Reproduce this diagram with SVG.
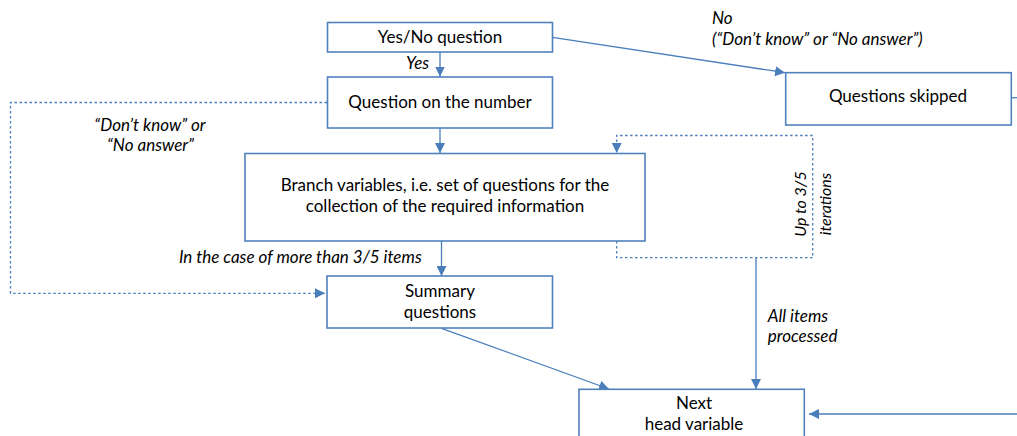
<svg xmlns="http://www.w3.org/2000/svg" width="1017" height="436" viewBox="0 0 1017 436">
<style>
.box{fill:#fff;stroke:#4f81bd;stroke-width:1.6}
.t{font-family:Lato,"Open Sans",sans-serif;font-size:17px;fill:#000;text-anchor:middle}
.l{font-family:Lato,"Open Sans",sans-serif;font-size:17px;font-style:italic;fill:#000}
.r{font-size:16px}
.c{fill:none;stroke:#4a7ebb;stroke-width:1.3}
.d{fill:none;stroke:#4a7ebb;stroke-width:1.3;stroke-dasharray:2.5 2.5}
</style>
<defs>
<marker id="a" viewBox="0 0 10 10" refX="10" refY="5" markerWidth="10" markerHeight="10" markerUnits="userSpaceOnUse" orient="auto">
<path d="M0,0 L10,5 L0,10 z" fill="#4a7ebb"/>
</marker>
</defs>
<rect width="1017" height="436" fill="#fff"/>
<g id="connectors">
<line class="c" x1="440" y1="52" x2="440" y2="76.5" marker-end="url(#a)"/>
<line class="c" x1="440" y1="128" x2="440" y2="153" marker-end="url(#a)"/>
<line class="c" x1="441.5" y1="241" x2="441.5" y2="276" marker-end="url(#a)"/>
<line class="c" x1="552.5" y1="37.3" x2="785" y2="72.7" marker-end="url(#a)"/>
<line class="c" x1="1011" y1="97.7" x2="1017" y2="97.7"/>
<polyline class="d" points="327,102.5 10.5,102.5 10.5,293.3 325,293.3" marker-end="url(#a)"/>
<polyline class="d" points="616.7,241 616.7,257.7 812.7,257.7 812.7,135.5 616.7,135.5 616.7,153" marker-end="url(#a)"/>
<line class="c" x1="756" y1="257.7" x2="756" y2="389" marker-end="url(#a)"/>
<line class="c" x1="441.5" y1="328.3" x2="609" y2="389" marker-end="url(#a)"/>
<line class="c" x1="1017" y1="414" x2="809" y2="414" marker-end="url(#a)"/>
</g>
<g id="labels">
<text class="l" x="417.5" y="69" text-anchor="middle">Yes</text>
<text class="l" x="712" y="24">No</text>
<text class="l" x="712" y="44.5">(“Don’t know” or “No answer”)</text>
<text class="l" x="150" y="130.5" text-anchor="middle">“Don’t know” or</text>
<text class="l" x="150.5" y="151" text-anchor="middle">“No answer”</text>
<text class="l" x="421.7" y="263" text-anchor="end">In the case of more than 3/5 items</text>
<text class="l r" transform="translate(806,204) rotate(-90)" text-anchor="middle">Up to 3/5</text>
<text class="l r" transform="translate(831,204) rotate(-90)" text-anchor="middle">iterations</text>
<text class="l" x="767.7" y="321.5">All items</text>
<text class="l" x="767.7" y="342">processed</text>
</g>
<g id="yesno"><rect class="box" x="327.5" y="22.5" width="225" height="29.5"/><text class="t" x="440" y="43">Yes/No question</text></g>
<g id="number"><rect class="box" x="327.5" y="77" width="225" height="51"/><text class="t" x="440" y="108">Question on the number</text></g>
<g id="branch"><rect class="box" x="245" y="153.5" width="400" height="87.5"/><text class="t" x="445" y="191">Branch variables, i.e. set of questions for the</text><text class="t" x="445" y="211.5">collection of the required information</text></g>
<g id="summary"><rect class="box" x="327" y="276" width="225.5" height="52"/><text class="t" x="440" y="297">Summary</text><text class="t" x="440" y="317.5">questions</text></g>
<g id="skipped"><rect class="box" x="785.7" y="72.7" width="225.6" height="52.3"/><text class="t" x="898" y="102">Questions skipped</text></g>
<g id="next"><rect class="box" x="579" y="389.3" width="225.3" height="60"/><text class="t" x="694" y="409">Next</text><text class="t" x="694" y="429.5">head variable</text></g>
</svg>
